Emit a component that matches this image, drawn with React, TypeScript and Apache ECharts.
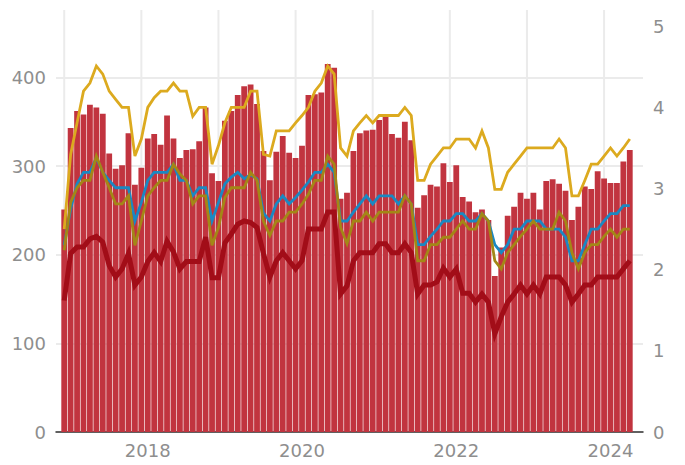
import React, { useEffect, useRef } from "react";
import * as echarts from "echarts";

const START_YEAR = 2017;
const yearLabelMonths = [13, 37, 61, 85];
const yearGridMonths = [0, 12, 24, 36, 48, 60, 72, 84];

const bars = [
  251, 343, 362, 358, 369, 366, 359, 314, 297, 301, 337, 279,
  298, 331, 336, 324, 357, 331, 309, 318, 319, 328, 366, 292,
  283, 351, 362, 380, 390, 392, 370, 317, 284, 316, 334, 315,
  309, 323, 380, 381, 383, 415, 411, 263, 270, 317, 337, 340,
  341, 352, 358, 336, 332, 350, 329, 253, 267, 279, 277, 303,
  282, 301, 265, 260, 248, 251, 239, 176, 208, 244, 254, 270,
  263, 270, 251, 283, 285, 280, 272, 239, 254, 277, 274, 294,
  286, 281, 281, 305, 318,
];

const darkRed = [
  1.62, 2.2, 2.28, 2.28, 2.38, 2.41, 2.34, 2.05, 1.91, 2.01, 2.2, 1.81,
  1.91, 2.1, 2.21, 2.1, 2.35, 2.22, 2.01, 2.1, 2.1, 2.1, 2.4, 1.9,
  1.9, 2.33, 2.44, 2.56, 2.6, 2.58, 2.52, 2.2, 1.91, 2.11, 2.21, 2.11,
  2.01, 2.11, 2.5, 2.5, 2.5, 2.71, 2.71, 1.7, 1.8, 2.11, 2.21, 2.21,
  2.21, 2.32, 2.32, 2.21, 2.21, 2.32, 2.21, 1.7, 1.81, 1.81, 1.85, 2.02,
  1.91, 2.01, 1.71, 1.71, 1.6, 1.7, 1.6, 1.21, 1.42, 1.6, 1.7, 1.81,
  1.7, 1.81, 1.7, 1.91, 1.91, 1.91, 1.81, 1.6, 1.7, 1.81, 1.81, 1.91,
  1.91, 1.91, 1.91, 2.01, 2.11,
];

const blue = [
  2.3, 2.75, 3.06, 3.2, 3.2, 3.38, 3.2, 3.1, 3.01, 3.01, 3.01, 2.6,
  2.83, 3.1, 3.2, 3.2, 3.2, 3.3, 3.1, 3.1, 2.91, 3.01, 3.01, 2.6,
  2.83, 3.06, 3.14, 3.2, 3.12, 3.17, 3.12, 2.7, 2.6, 2.81, 2.91, 2.81,
  2.89, 2.98, 3.08, 3.2, 3.2, 3.3, 3.2, 2.6, 2.6, 2.71, 2.81, 2.91,
  2.81, 2.91, 2.91, 2.91, 2.81, 2.91, 2.81, 2.31, 2.31, 2.41, 2.5, 2.6,
  2.6, 2.69, 2.69, 2.6, 2.6, 2.69, 2.6, 2.31, 2.21, 2.31, 2.5, 2.5,
  2.6, 2.6, 2.6, 2.5, 2.5, 2.5, 2.4, 2.11, 2.11, 2.31, 2.5, 2.5,
  2.6, 2.69, 2.69, 2.79, 2.79,
];

const olive = [
  2.24, 2.83, 3.01, 3.1, 3.1, 3.4, 3.2, 3.01, 2.81, 2.81, 2.91, 2.3,
  2.6, 2.91, 3.01, 3.1, 3.1, 3.3, 3.18, 3.1, 2.81, 2.91, 2.91, 2.3,
  2.52, 2.89, 3.01, 3.01, 3.01, 3.2, 3.1, 2.6, 2.42, 2.6, 2.6, 2.71,
  2.71, 2.81, 2.93, 3.1, 3.1, 3.4, 3.3, 2.52, 2.32, 2.6, 2.6, 2.71,
  2.6, 2.71, 2.71, 2.71, 2.71, 2.91, 2.81, 2.11, 2.11, 2.31, 2.31, 2.4,
  2.4, 2.5, 2.6, 2.5, 2.5, 2.69, 2.6, 2.11, 2.01, 2.21, 2.31, 2.41,
  2.5, 2.6, 2.5, 2.5, 2.5, 2.71, 2.6, 2.21, 2.01, 2.21, 2.31, 2.31,
  2.41, 2.5, 2.4, 2.5, 2.5,
];

const gold = [
  2.5, 3.42, 3.81, 4.2, 4.3, 4.51, 4.41, 4.2, 4.1, 4.0, 4.0, 3.4,
  3.61, 4.0, 4.12, 4.2, 4.2, 4.3, 4.2, 4.2, 3.89, 4.0, 4.0, 3.3,
  3.53, 3.81, 4.0, 4.0, 4.0, 4.2, 4.2, 3.42, 3.4, 3.71, 3.71, 3.71,
  3.81, 3.9, 4.0, 4.2, 4.3, 4.51, 4.41, 3.5, 3.4, 3.71, 3.81, 3.9,
  3.81, 3.9, 3.9, 3.9, 3.9, 4.0, 3.9, 3.1, 3.1, 3.3, 3.4, 3.5,
  3.5, 3.61, 3.61, 3.61, 3.5, 3.71, 3.5, 2.99, 2.99, 3.2, 3.3, 3.4,
  3.5, 3.5, 3.5, 3.5, 3.5, 3.61, 3.5, 2.91, 2.91, 3.1, 3.3, 3.3,
  3.4, 3.5, 3.4, 3.5, 3.61,
];

const FONT = "DejaVu Sans";
const LABEL_COLOR = "#8e8e8e";
const GRID_COLOR = "#ebebeb";
const LEFT_MAX = 476;

export default function App() {
  const ref = useRef<HTMLDivElement>(null);
  useEffect(() => {
    document.body.style.margin = "0";
    const chart = echarts.init(ref.current!, null, { renderer: "svg" });
    const pts = (arr: number[]) => arr.map((v, i) => [i, v]);
    const lineSeries = (data: number[], color: string, width: number, z: number) => ({
      type: "line",
      yAxisIndex: 1,
      data: pts(data),
      symbol: "none",
      showSymbol: false,
      z,
      lineStyle: { color, width, join: "miter" },
      itemStyle: { color },
      emphasis: { disabled: true },
      silent: true,
    });
    chart.setOption({
      animation: false,
      grid: { left: 56, right: 42, top: 10, bottom: 33, containLabel: false },
      xAxis: {
        type: "value",
        min: -1.278,
        max: 90.056,
        axisLine: { show: true, lineStyle: { color: "#333", width: 1.5 } },
        axisTick: { show: false },
        splitLine: { show: false },
        axisLabel: {
          customValues: yearLabelMonths,
          formatter: (v: number) => String(START_YEAR + Math.floor(v / 12)),
          color: LABEL_COLOR,
          fontSize: 18,
          fontFamily: FONT,
          margin: 9,
        },
      },
      yAxis: [
        {
          type: "value",
          min: 0,
          max: LEFT_MAX,
          interval: 100,
          axisLine: { show: false },
          axisTick: { show: false },
          axisLabel: {
            showMaxLabel: false,
            color: LABEL_COLOR,
            fontSize: 18,
            fontFamily: FONT,
            margin: 10,
          },
          splitLine: { show: true, showMaxLine: false, lineStyle: { color: GRID_COLOR, width: 2 } },
        },
        {
          type: "value",
          min: 0,
          max: 5.2,
          interval: 1,
          position: "right",
          axisLine: { show: false },
          axisTick: { show: false },
          axisLabel: {
            showMaxLabel: false,
            color: LABEL_COLOR,
            fontSize: 18,
            fontFamily: FONT,
            margin: 10,
          },
          splitLine: { show: false },
        },
      ],
      series: [
        {
          type: "custom",
          z: 1,
          silent: true,
          data: yearGridMonths.map((m) => [m]),
          encode: { x: 0 },
          renderItem: (params: any, api: any) => {
            const m = api.value(0);
            const p0 = api.coord([m, 0]);
            const p1 = api.coord([m, LEFT_MAX]);
            return {
              type: "line",
              shape: { x1: p0[0], y1: p0[1], x2: p1[0], y2: p1[1] },
              style: { stroke: GRID_COLOR, lineWidth: 2 },
            };
          },
        },
        {
          type: "bar",
          data: pts(bars),
          barWidth: 5.8,
          z: 2,
          itemStyle: { color: "#c1343f" },
          emphasis: { disabled: true },
          silent: true,
        },
        lineSeries(darkRed, "#a20d18", 5, 3),
        lineSeries(blue, "#1a88c2", 2.8, 4),
        lineSeries(olive, "#a38716", 2.8, 5),
        lineSeries(gold, "#dcaa1f", 2.8, 6),
      ],
    });
    return () => chart.dispose();
  }, []);
  return <div ref={ref} style={{ width: 685, height: 465 }} />;
}
